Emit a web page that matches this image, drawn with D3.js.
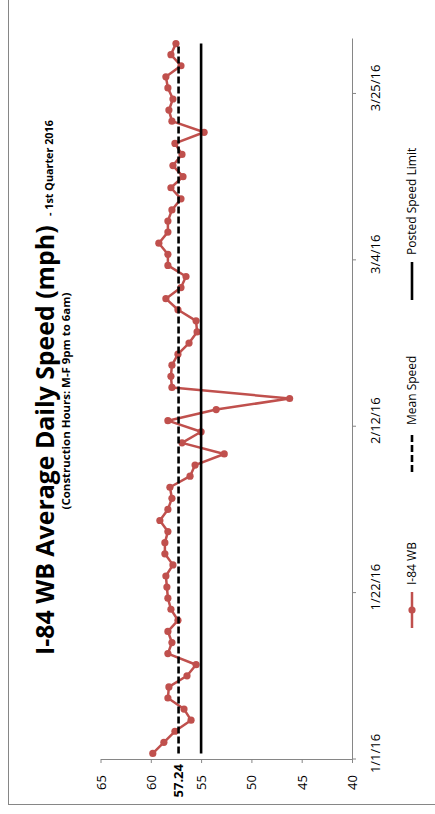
<!DOCTYPE html>
<html><head><meta charset="utf-8">
<script src="https://cdn.jsdelivr.net/npm/d3@7"></script>
<style>body{margin:0;background:#fff} svg{display:block} text{font-family:'Open Sans',sans-serif;fill:#000}</style>
</head><body>
<svg id="c" width="435" height="814"></svg>
<script>
// Weekday categories, Q1 2016
const categories = [
 "1/1","1/4","1/5","1/6","1/7","1/8","1/11","1/12","1/13","1/14","1/15","1/18","1/19","1/20","1/21","1/22","1/25","1/26","1/27","1/28","1/29",
 "2/1","2/2","2/3","2/4","2/5","2/8","2/9","2/10","2/11","2/12","2/15","2/16","2/17","2/18","2/19","2/22","2/23","2/24","2/25","2/26","2/29",
 "3/1","3/2","3/3","3/4","3/7","3/8","3/9","3/10","3/11","3/14","3/15","3/16","3/17","3/18","3/21","3/22","3/23","3/24","3/25","3/28","3/29","3/30","3/31"
];
const speeds = [
 59.8,58.7,57.6,56.0,56.7,58.3,58.2,56.4,55.5,58.3,57.9,58.3,57.3,58.0,58.3,58.4,58.5,57.8,58.6,58.6,58.3,
 59.1,58.3,57.9,58.1,56.1,55.6,52.7,56.9,55.0,58.3,53.5,46.2,57.9,58.0,57.9,57.3,56.2,55.4,55.5,57.3,58.5,
 57.0,56.5,58.3,58.3,59.2,58.3,58.3,57.9,57.0,58.0,56.8,57.8,56.9,57.6,54.7,57.9,58.2,57.8,58.3,58.5,57.0,58.0,57.5
];
const meanSpeed = 57.24;
const postedLimit = 55;
const speedTicks = [65, 60, 55, 50, 45, 40];
const dateTickCats = ["1/1", "1/22", "2/12", "3/4", "3/25"];
const seriesNames = ["I-84 WB", "Mean Speed", "Posted Speed Limit"];
const titleMain = "I-84 WB Average Daily Speed (mph)";
const titleSuffix = "1st Quarter 2016";
const subtitle = "(Construction Hours: M-F 9pm to 6am)";

const RED = "#C0504D", AX = "#868686";
const svg = d3.select("#c");

// frame
svg.append("rect").attr("x", 8.5).attr("y", -5).attr("width", 440).attr("height", 809.5)
  .attr("fill", "none").attr("stroke", AX).attr("stroke-width", 1);

const x = d3.scaleLinear().domain([40, 65]).range([352, 100.5]);
const y = d3.scaleBand().domain(categories).range([759, 38]).padding(0);
const bw = y.bandwidth();
const yc = c => y(c) + bw / 2;

// speed axis (bottom)
const gx = svg.append("g").attr("transform", "translate(0,759)")
  .call(d3.axisBottom(x).tickValues(speedTicks).tickSize(4).tickSizeOuter(0));
gx.select(".domain").attr("stroke", AX);
gx.selectAll(".tick line").attr("stroke", AX);
gx.selectAll(".tick text").attr("transform", "rotate(-90)").attr("x", -16).attr("y", 0)
  .attr("dy", "0.35em").attr("text-anchor", "end").style("font-size", "13px").style("font-family", "'Open Sans',sans-serif").attr("fill", "#000");

// date axis (right side)
const gy = svg.append("g").attr("transform", "translate(352,0)")
  .call(d3.axisRight(y).tickValues(dateTickCats).tickSize(4).tickSizeOuter(0).tickFormat(d => d + "/16"));
gy.select(".domain").attr("stroke", AX);
gy.selectAll(".tick line").attr("stroke", AX).attr("transform", `translate(0,${bw / 2})`);
gy.selectAll(".tick text").attr("transform", "rotate(-90)").attr("x", 0).attr("y", 28)
  .attr("dy", 0).attr("text-anchor", "middle").style("font-size", "13px").style("font-family", "'Open Sans',sans-serif").attr("fill", "#000");

// series
const pts = categories.map((c, i) => ({ c, v: speeds[i] }));
const line = d3.line().x(d => x(d.v)).y(d => yc(d.c));
svg.append("path").datum(pts).attr("d", line).attr("fill", "none").attr("stroke", RED)
  .attr("stroke-width", 2.5).attr("stroke-linejoin", "round");
svg.selectAll("circle.pt").data(pts).join("circle").attr("class", "pt")
  .attr("cx", d => x(d.v)).attr("cy", d => yc(d.c)).attr("r", 3.6).attr("fill", RED);

svg.append("path").datum(categories.map(c => ({ c, v: meanSpeed }))).attr("d", line)
  .attr("fill", "none").attr("stroke", "#000").attr("stroke-width", 2.6).attr("stroke-dasharray", "7,3");
svg.append("path").datum(categories.map(c => ({ c, v: postedLimit }))).attr("d", line)
  .attr("fill", "none").attr("stroke", "#000").attr("stroke-width", 2.6);

// mean label
svg.append("text").attr("transform", `translate(${x(meanSpeed)},764) rotate(-90)`)
  .attr("dy", "0.35em").attr("text-anchor", "end").style("font-size", "13px").style("font-weight", "bold")
  .text(meanSpeed.toFixed(2));

// title
function fit(sel, target) {
  const fs = parseFloat(sel.style("font-size"));
  const w = sel.node().getComputedTextLength();
  sel.style("font-size", (fs * target / w) + "px");
}
const t1 = svg.append("text").attr("transform", "translate(54,655) rotate(-90)")
  .attr("text-anchor", "start").style("font-weight", "bold").style("font-size", "22px").text(titleMain);
fit(t1, 430);
const t2 = svg.append("text").attr("transform", "translate(53,216) rotate(-90)")
  .attr("text-anchor", "start").style("font-weight", "bold").style("font-size", "12px").text("- " + titleSuffix);
fit(t2, 96);
const t3 = svg.append("text").attr("transform", "translate(70,401) rotate(-90)")
  .attr("text-anchor", "middle").style("font-weight", "bold").style("font-size", "12px").text(subtitle);
fit(t3, 217);

// legend
const LX = 412;
const leg = [
  { name: seriesNames[0], s0: 628, s1: 592, t: 585 },
  { name: seriesNames[1], s0: 472, s1: 432, t: 425 },
  { name: seriesNames[2], s0: 300, s1: 262, t: 255 }
];
const lg = svg.append("g");
lg.append("line").attr("x1", LX).attr("x2", LX).attr("y1", leg[0].s0).attr("y2", leg[0].s1)
  .attr("stroke", RED).attr("stroke-width", 2.5);
lg.append("circle").attr("cx", LX).attr("cy", (leg[0].s0 + leg[0].s1) / 2).attr("r", 3.6).attr("fill", RED);
lg.append("line").attr("x1", LX).attr("x2", LX).attr("y1", leg[1].s0).attr("y2", leg[1].s1)
  .attr("stroke", "#000").attr("stroke-width", 2.6).attr("stroke-dasharray", "7,3");
lg.append("line").attr("x1", LX).attr("x2", LX).attr("y1", leg[2].s0).attr("y2", leg[2].s1)
  .attr("stroke", "#000").attr("stroke-width", 2.6);
lg.selectAll("text").data(leg).join("text")
  .attr("transform", d => `translate(${LX},${d.t}) rotate(-90)`)
  .attr("dy", "0.35em").attr("text-anchor", "start").style("font-size", "12px").text(d => d.name);
</script>
</body></html>
